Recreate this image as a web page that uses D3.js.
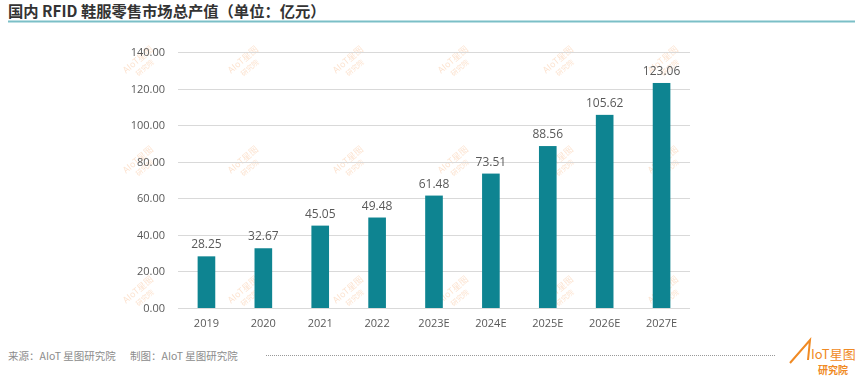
<!DOCTYPE html>
<html>
<head>
<meta charset="utf-8">
<script src="https://cdn.jsdelivr.net/npm/d3@7"></script>
<style>
  body { margin: 0; background: #fff; }
  svg text { font-family: "Noto Sans CJK SC", "Open Sans", sans-serif; }
</style>
</head>
<body>
<svg id="chart"></svg>
<script>
// chart data
var years = ["2019", "2020", "2021", "2022", "2023E", "2024E", "2025E", "2026E", "2027E"];
var values = [28.25, 32.67, 45.05, 49.48, 61.48, 73.51, 88.56, 105.62, 123.06];
var yTicks = [0, 20, 40, 60, 80, 100, 120, 140];

var W = 865, H = 389;
var margin = {top: 52, left: 178, right: 175, bottom: 81};
var width = W - margin.left - margin.right,
    height = H - margin.top - margin.bottom;

var svg = d3.select("#chart").attr("width", W).attr("height", H);

// title + underline
svg.append("text")
    .attr("x", 8).attr("y", 17)
    .attr("font-size", 15.3).attr("font-weight", "bold").attr("fill", "#333")
    .text("国内 RFID 鞋服零售市场总产值（单位：亿元）");
svg.append("line")
    .attr("x1", 8).attr("x2", 855).attr("y1", 21.5).attr("y2", 21.5)
    .attr("stroke", "#7bbfc7").attr("stroke-width", 2);

// watermarks
var wmX = [140, 245, 350, 455, 560, 665], wmY = [62, 162, 292];
var wm = svg.append("g").attr("opacity", 0.3);
wmY.forEach(function(yy) {
  wmX.forEach(function(xx) {
    var g = wm.append("g").attr("transform", "translate(" + xx + "," + yy + ") rotate(-40)");
    g.append("text").attr("font-size", 9).attr("fill", "#f5a060").attr("text-anchor", "middle").text("AIoT星图");
    g.append("text").attr("y", 10).attr("font-size", 7).attr("fill", "#f5a060").attr("text-anchor", "middle").text("研究院");
  });
});

var g = svg.append("g").attr("transform", "translate(" + margin.left + "," + margin.top + ")");

var x = d3.scaleBand().domain(years).range([0, width]).paddingInner(0.69).paddingOuter(0.345);
var y = d3.scaleLinear().domain([0, 140]).range([height, 0]);

// grid lines
g.selectAll(".grid").data(yTicks).enter().append("line")
    .attr("x1", 0).attr("x2", width)
    .attr("y1", function(d) { return Math.round(y(d)) + 0.5; })
    .attr("y2", function(d) { return Math.round(y(d)) + 0.5; })
    .attr("stroke", "#d9d9d9").attr("stroke-width", 1);

// y axis labels
var yAxis = d3.axisLeft(y).tickValues(yTicks).tickSize(0).tickPadding(13)
    .tickFormat(d3.format(".2f"));
var ya = g.append("g").call(yAxis);
ya.select(".domain").remove();
ya.selectAll("text").attr("font-size", 11).attr("fill", "#595959")
    .style("font-family", "'Open Sans', sans-serif");

// x axis labels
var xAxis = d3.axisBottom(x).tickSize(0).tickPadding(11);
var xa = g.append("g").attr("transform", "translate(0," + height + ")").call(xAxis);
xa.select(".domain").remove();
xa.selectAll("text").attr("font-size", 11).attr("fill", "#595959")
    .style("font-family", "'Open Sans', sans-serif");

// bars
g.selectAll(".bar").data(values).enter().append("rect")
    .attr("x", function(d, i) { return x(years[i]); })
    .attr("width", x.bandwidth())
    .attr("y", function(d) { return y(d); })
    .attr("height", function(d) { return height - y(d); })
    .attr("fill", "#0e8491");

// value labels
g.selectAll(".val").data(values).enter().append("text")
    .attr("x", function(d, i) { return x(years[i]) + x.bandwidth() / 2; })
    .attr("y", function(d) { return y(d) - 8; })
    .attr("text-anchor", "middle")
    .attr("font-size", 12).attr("fill", "#595959")
    .style("font-family", "'Open Sans', sans-serif")
    .text(function(d) { return d.toFixed(2); });

// footer
svg.append("text")
    .attr("x", 8).attr("y", 360)
    .attr("font-size", 10.5).attr("fill", "#8c8c8c")
    .text("来源：AIoT 星图研究院");
svg.append("text")
    .attr("x", 130).attr("y", 360)
    .attr("font-size", 10.5).attr("fill", "#8c8c8c")
    .text("制图：AIoT 星图研究院");
svg.append("line")
    .attr("x1", 266).attr("x2", 775).attr("y1", 355.5).attr("y2", 355.5)
    .attr("stroke", "#999").attr("stroke-width", 1).attr("stroke-dasharray", "1,1");

// logo
var logo = svg.append("g").attr("transform", "translate(790,0)");
logo.append("path").attr("d", "M0,363 L20,340 L18,360").attr("fill", "none")
    .attr("stroke", "#f08a24").attr("stroke-width", 2);
logo.append("text").attr("x", 21).attr("y", 359).attr("font-size", 13).attr("fill", "#f08a24").text("IoT星图");
logo.append("text").attr("x", 28).attr("y", 374).attr("font-size", 10).attr("font-weight", "bold").attr("fill", "#f08a24").text("研究院");
</script>
</body>
</html>
